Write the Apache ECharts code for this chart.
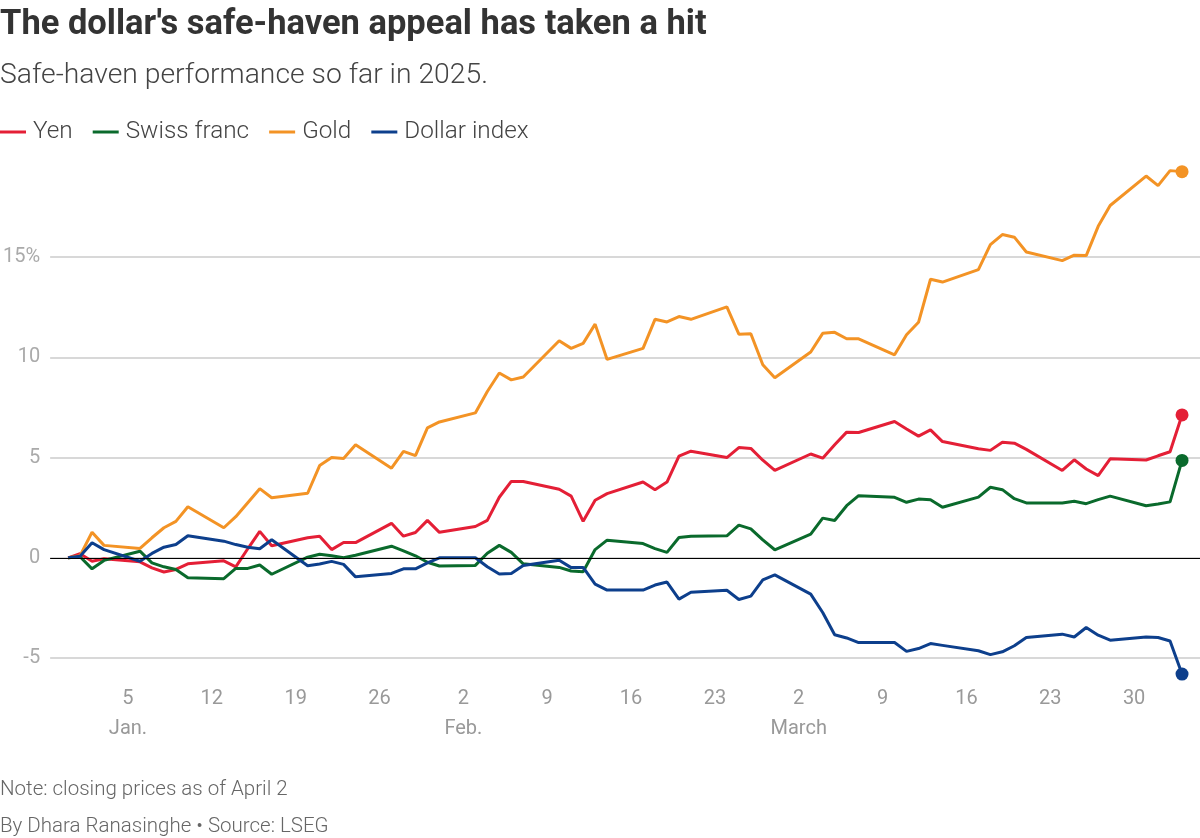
<!DOCTYPE html>
<html><head><meta charset="utf-8">
<script src="https://cdn.jsdelivr.net/npm/echarts@6/dist/echarts.min.js"></script>
<style>html,body{margin:0;padding:0;background:#fff}#c{width:1200px;height:838px}</style>
</head><body><div id="c"></div>
<script>
const dates = ['2024-12-31','2025-01-01','2025-01-02','2025-01-03','2025-01-06','2025-01-07','2025-01-08','2025-01-09','2025-01-10',
'2025-01-13','2025-01-14','2025-01-15','2025-01-16','2025-01-17','2025-01-20','2025-01-21','2025-01-22','2025-01-23','2025-01-24',
'2025-01-27','2025-01-28','2025-01-29','2025-01-30','2025-01-31','2025-02-03','2025-02-04','2025-02-05','2025-02-06','2025-02-07',
'2025-02-10','2025-02-11','2025-02-12','2025-02-13','2025-02-14','2025-02-17','2025-02-18','2025-02-19','2025-02-20','2025-02-21',
'2025-02-24','2025-02-25','2025-02-26','2025-02-27','2025-02-28','2025-03-03','2025-03-04','2025-03-05','2025-03-06','2025-03-07',
'2025-03-10','2025-03-11','2025-03-12','2025-03-13','2025-03-14','2025-03-17','2025-03-18','2025-03-19','2025-03-20','2025-03-21',
'2025-03-24','2025-03-25','2025-03-26','2025-03-27','2025-03-28','2025-03-31','2025-04-01','2025-04-02','2025-04-03'];

const yen = [0,0.2,-0.17,-0.05,-0.2,-0.5,-0.71,-0.58,-0.3,
-0.15,-0.45,0.45,1.32,0.6,1.0,1.08,0.41,0.76,0.76,
1.72,1.08,1.26,1.87,1.27,1.56,1.87,3.02,3.81,3.81,
3.42,3.08,1.82,2.87,3.2,3.78,3.4,3.78,5.07,5.32,
5.0,5.5,5.46,4.87,4.36,5.18,4.97,5.64,6.27,6.25,
6.8,6.43,6.07,6.38,5.8,5.44,5.36,5.77,5.72,5.41,
4.36,4.89,4.43,4.1,4.94,4.88,5.09,5.29,7.13];

const swissFranc = [0,0.05,-0.55,-0.13,0.33,-0.25,-0.45,-0.58,-0.99,
-1.04,-0.53,-0.53,-0.36,-0.82,0.03,0.18,0.1,0.0,0.13,
0.58,0.35,0.1,-0.22,-0.41,-0.38,0.23,0.62,0.27,-0.3,
-0.48,-0.66,-0.7,0.41,0.88,0.71,0.46,0.27,1.01,1.08,
1.1,1.63,1.44,0.89,0.4,1.18,1.98,1.86,2.6,3.1,
3.02,2.77,2.93,2.9,2.52,3.03,3.52,3.4,2.95,2.74,
2.74,2.82,2.7,2.9,3.08,2.6,2.68,2.79,4.86];

const gold = [0,0.1,1.28,0.62,0.47,1.0,1.5,1.82,2.55,
1.5,2.05,2.75,3.45,3.0,3.22,4.6,5.0,4.96,5.64,
4.47,5.31,5.1,6.48,6.78,7.23,8.3,9.22,8.88,9.02,
10.83,10.45,10.7,11.66,9.9,10.45,11.9,11.77,12.04,11.9,
12.52,11.16,11.18,9.63,8.98,10.27,11.2,11.25,10.93,10.93,
10.13,11.13,11.75,13.9,13.76,14.38,15.63,16.13,16.0,15.26,
14.83,15.1,15.08,16.54,17.58,19.05,18.57,19.32,19.27];

const dollarIndex = [0,0.08,0.75,0.41,-0.17,0.22,0.53,0.66,1.1,
0.83,0.66,0.53,0.45,0.9,-0.4,-0.31,-0.18,-0.33,-0.95,
-0.78,-0.55,-0.55,-0.25,0.0,0.0,-0.45,-0.81,-0.78,-0.38,
-0.12,-0.49,-0.48,-1.31,-1.61,-1.61,-1.36,-1.21,-2.06,-1.72,
-1.62,-2.08,-1.91,-1.1,-0.85,-1.81,-2.73,-3.84,-4.0,-4.23,
-4.23,-4.67,-4.53,-4.28,-4.37,-4.64,-4.83,-4.69,-4.39,-3.98,
-3.81,-3.95,-3.48,-3.86,-4.11,-3.95,-3.98,-4.15,-5.8];

const seriesNames = ['Yen','Swiss franc','Gold','Dollar index'];
const seriesColors = ['#e41f36','#0a6a2c','#f39325','#0d3f8c'];

const xTickDates = ['2025-01-05','2025-01-12','2025-01-19','2025-01-26','2025-02-02','2025-02-09','2025-02-16','2025-02-23',
'2025-03-02','2025-03-09','2025-03-16','2025-03-23','2025-03-30'];
const xTickLabels = ['5\nJan.','12','19','26','2\nFeb.','9','16','23','2\nMarch','9','16','23','30'];
const yTicks = [-5,0,5,10,15];
const yTickLabels = ['-5','0','5','10','15%'];

const BASE = Date.UTC(2024,11,31);
function dayIndex(s){const p=s.split('-').map(Number);return (Date.UTC(p[0],p[1]-1,p[2])-BASE)/86400000;}
const xs = dates.map(dayIndex);
const xTickVals = xTickDates.map(dayIndex);
const xLabelMap = {}; xTickVals.forEach((v,i)=>xLabelMap[v]=xTickLabels[i]);
const yLabelMap = {}; yTicks.forEach((v,i)=>yLabelMap[v]=yTickLabels[i]);

const FONT = 'Roboto, "Open Sans", sans-serif';
const allData = [yen, swissFranc, gold, dollarIndex];
const series = allData.map((arr,si)=>{
  const last = arr.length-1;
  const s = {
    name: seriesNames[si], type:'line', clip:false,
    data: arr.map((v,i)=>[xs[i], v]),
    lineStyle:{color:seriesColors[si], width:3},
    itemStyle:{color:seriesColors[si]},
    symbol:'circle', showSymbol:true,
    symbolSize:(val,params)=>params.dataIndex===last?13:0,
    emphasis:{disabled:true}
  };
  if (si===0) {
    s.markLine = {silent:true, symbol:['none','none'], label:{show:false},
      lineStyle:{color:'#000', width:1.2, type:'solid'}, data:[{yAxis:0}], animation:false};
  }
  return s;
});

const chart = echarts.init(document.getElementById('c'), null, {renderer:'canvas'});
chart.setOption({
  animation:false,
  textStyle:{fontFamily:FONT},
  title:[
    {text:"The dollar's safe-haven appeal has taken a hit", left:0, top:8, padding:0,
     textStyle:{fontSize:34.5, fontWeight:'bold', color:'#333', fontFamily:FONT}},
    {text:'Safe-haven performance so far in 2025.', left:0, top:62, padding:0,
     textStyle:{fontSize:28.3, fontWeight:300, color:'#444', fontFamily:FONT}},
    {text:'Note: closing prices as of April 2', left:0, top:779, padding:0,
     textStyle:{fontSize:20.5, fontWeight:300, color:'#666', fontFamily:FONT}},
    {text:'By Dhara Ranasinghe \u2022 Source: LSEG', left:0, top:816, padding:0,
     textStyle:{fontSize:20.5, fontWeight:300, color:'#666', fontFamily:FONT}}
  ],
  legend:{
    data:seriesNames, left:0, top:120, padding:0, icon:'rect', itemWidth:26, itemHeight:3, itemGap:20,
    textStyle:{fontSize:24.3, color:'#444', fontWeight:300, fontFamily:FONT, padding:[0,0,0,2]}, selectedMode:false
  },
  grid:{left:48, right:0, top:157, bottom:180},
  xAxis:{
    type:'value', min:-1.5, max:94.5,
    axisLine:{show:false}, axisTick:{show:false}, splitLine:{show:false},
    axisLabel:{customValues:xTickVals, formatter:v=>xLabelMap[v]||'', color:'#999', fontSize:20, lineHeight:30, margin:26, fontFamily:FONT}
  },
  yAxis:{
    type:'value', min:-5, max:20, interval:5,
    axisLine:{show:false}, axisTick:{show:false},
    splitLine:{show:true, showMaxLine:false, lineStyle:{color:'#cbcbcb', width:1.5}},
    axisLabel:{showMaxLabel:false, formatter:v=>yLabelMap[v]||'', color:'#aaa', fontSize:20, margin:10, fontFamily:FONT}
  },
  series:series
});
</script></body></html>
